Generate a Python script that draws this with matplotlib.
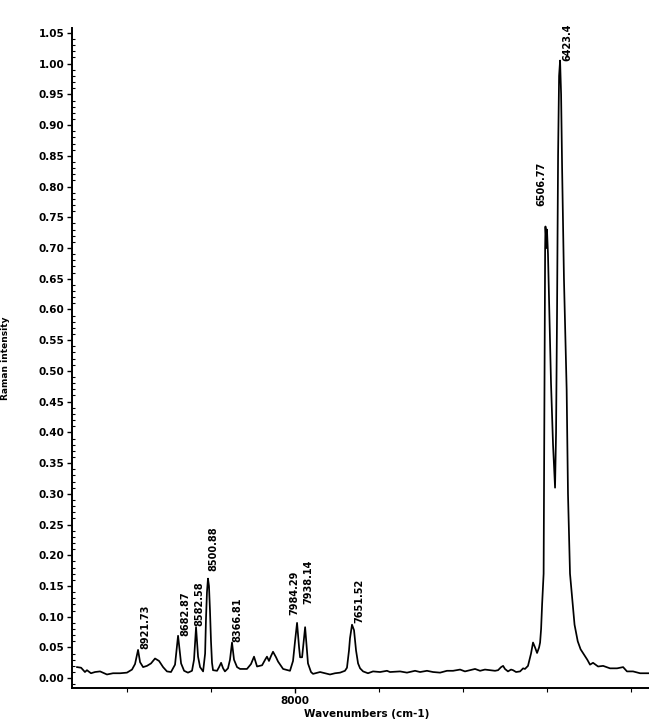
# -*- coding: utf-8 -*-
"""plot.py — Raman spectrum (scan of an instrument printout), saved as out.png."""
import matplotlib
matplotlib.use("Agg")
import matplotlib.pyplot as plt
from matplotlib.ticker import FixedLocator, MultipleLocator, FormatStrFormatter

# traced spectrum: wavenumber (cm-1) / intensity
wavenumber = [
    9297, 9273, 9250, 9238, 9214, 9190, 9160, 9119, 9083, 9041,
    9000, 8970, 8952, 8934, 8922, 8904, 8881, 8857, 8833, 8809,
    8785, 8762, 8738, 8714, 8696, 8678, 8660, 8637, 8613, 8601,
    8589, 8577, 8565, 8547, 8535, 8530, 8524, 8518, 8512, 8506,
    8500, 8494, 8488, 8464, 8452, 8440, 8428, 8417, 8399, 8387,
    8375, 8363, 8345, 8327, 8286, 8262, 8244, 8226, 8196, 8178,
    8167, 8155, 8143, 8131, 8113, 8101, 8071, 8030, 8012, 8000,
    7988, 7976, 7970, 7958, 7952, 7940, 7929, 7923, 7905, 7893,
    7851, 7822, 7792, 7762, 7732, 7703, 7691, 7679, 7673, 7661,
    7649, 7637, 7625, 7613, 7595, 7566, 7536, 7494, 7453, 7435,
    7375, 7334, 7286, 7256, 7215, 7179, 7137, 7096, 7060, 7018,
    6989, 6959, 6929, 6899, 6870, 6840, 6810, 6792, 6774, 6762,
    6751, 6733, 6715, 6703, 6685, 6661, 6643, 6632, 6614, 6596,
    6584, 6572, 6560, 6548, 6542, 6536, 6530, 6521, 6518, 6515,
    6512, 6510, 6507, 6504, 6501, 6495, 6489, 6477, 6465, 6453,
    6447, 6441, 6435, 6429, 6423, 6417, 6411, 6400, 6384, 6376,
    6364, 6337, 6318, 6301, 6261, 6245, 6227, 6197, 6167, 6126,
    6084, 6048, 6025, 5989, 5947, 5894,
]
intensity = [
    0.018, 0.017, 0.010, 0.013, 0.008, 0.010, 0.011, 0.006, 0.008, 0.008,
    0.009, 0.014, 0.023, 0.046, 0.026, 0.018, 0.020, 0.024, 0.032, 0.028,
    0.018, 0.011, 0.010, 0.022, 0.069, 0.024, 0.012, 0.009, 0.012, 0.030,
    0.083, 0.035, 0.018, 0.011, 0.040, 0.095, 0.140, 0.162, 0.150, 0.110,
    0.060, 0.025, 0.013, 0.012, 0.018, 0.025, 0.016, 0.011, 0.016, 0.030,
    0.058, 0.030, 0.018, 0.015, 0.015, 0.023, 0.035, 0.019, 0.021, 0.030,
    0.035, 0.028, 0.036, 0.043, 0.034, 0.027, 0.015, 0.012, 0.028, 0.060,
    0.090, 0.050, 0.034, 0.034, 0.050, 0.083, 0.045, 0.024, 0.010, 0.007,
    0.010, 0.008, 0.006, 0.008, 0.009, 0.012, 0.017, 0.045, 0.065, 0.087,
    0.078, 0.045, 0.024, 0.016, 0.011, 0.008, 0.011, 0.010, 0.012, 0.010,
    0.011, 0.009, 0.012, 0.010, 0.012, 0.010, 0.009, 0.012, 0.012, 0.014,
    0.011, 0.013, 0.015, 0.012, 0.014, 0.013, 0.012, 0.013, 0.018, 0.020,
    0.015, 0.011, 0.014, 0.013, 0.010, 0.011, 0.016, 0.015, 0.020, 0.040,
    0.058, 0.050, 0.041, 0.050, 0.058, 0.080, 0.120, 0.170, 0.350, 0.550,
    0.700, 0.735, 0.720, 0.700, 0.730, 0.690, 0.620, 0.480, 0.380, 0.310,
    0.400, 0.600, 0.850, 0.980, 1.005, 0.950, 0.830, 0.650, 0.470, 0.300,
    0.170, 0.087, 0.060, 0.047, 0.030, 0.022, 0.025, 0.019, 0.020, 0.016,
    0.016, 0.018, 0.011, 0.011, 0.008, 0.008,
]

# peak labels printed by the instrument
peak_text = ["8921.73", "8682.87", "8582.58", "8500.88", "8366.81",
             "7984.29", "7938.14", "7651.52", "6506.77", "6423.4"]
peak_wn = [8934, 8696, 8589, 8518, 8375, 7988, 7940, 7661, 6510, 6423]
peak_int = [0.046, 0.069, 0.083, 0.162, 0.058, 0.090, 0.083, 0.087, 0.735, 1.005]
# label offset from the peak tip, in pixels (x, y)
peak_off = [(7, 1), (7, 0), (3, 1), (5, 8), (5, 1),
            (-3, 8), (3, 23), (7, 2), (-4, 20), (7, 0)]

FONT = "DejaVu Sans"


def main():
    W, H = 649, 725
    fig = plt.figure(figsize=(W / 100, H / 100), dpi=100, facecolor="white")
    # axes in pixel terms: left 72, right 649, bottom 688, top 28
    ax = fig.add_axes([72 / W, 37 / H, 577 / W, 660 / H])

    ax.plot(wavenumber, intensity, color="black", lw=1.25)
    ax.set_xlim(9327, 5894)
    ax.set_ylim(-0.016, 1.058)

    for txt, x, y, (dx, dy) in zip(peak_text, peak_wn, peak_int, peak_off):
        ax.annotate(txt, xy=(x, y), xytext=(dx * 0.72, dy * 0.72),
                    textcoords="offset points", rotation=90,
                    ha="center", va="bottom", fontsize=7,
                    fontweight="bold", family=FONT)

    # axes styling: printout has only left/bottom spines
    for side in ("top", "right"):
        ax.spines[side].set_visible(False)
    for side in ("left", "bottom"):
        ax.spines[side].set_linewidth(1.4)

    ax.yaxis.set_major_locator(MultipleLocator(0.05))
    ax.yaxis.set_minor_locator(MultipleLocator(0.01))
    ax.yaxis.set_major_formatter(FormatStrFormatter("%.2f"))
    ax.xaxis.set_major_locator(FixedLocator([8000]))
    ax.xaxis.set_minor_locator(FixedLocator([9000, 8500, 7500, 7000, 6500, 6000]))

    ax.tick_params(axis="y", which="major", direction="out", length=3.5,
                   width=1.0, pad=2, labelsize=7.5)
    ax.tick_params(axis="y", which="minor", direction="in", length=2, width=0.8)
    ax.tick_params(axis="x", which="major", direction="out", length=3.5,
                   width=1.0, pad=2, labelsize=7.5)
    ax.tick_params(axis="x", which="minor", direction="out", length=3, width=0.8)
    for lab in ax.get_xticklabels() + ax.get_yticklabels():
        lab.set_fontweight("bold")
        lab.set_family(FONT)

    ax.set_xlabel("Wavenumbers (cm-1)", fontsize=7.5, fontweight="bold", family=FONT)
    ax.xaxis.set_label_coords(0.51, -0.032)
    ax.set_ylabel("Raman intensity", fontsize=6.5, fontweight="bold", family=FONT)
    ax.yaxis.set_label_coords(-0.107, 0.5)

    fig.savefig("out.png", dpi=100, facecolor="white")


if __name__ == "__main__":
    main()
